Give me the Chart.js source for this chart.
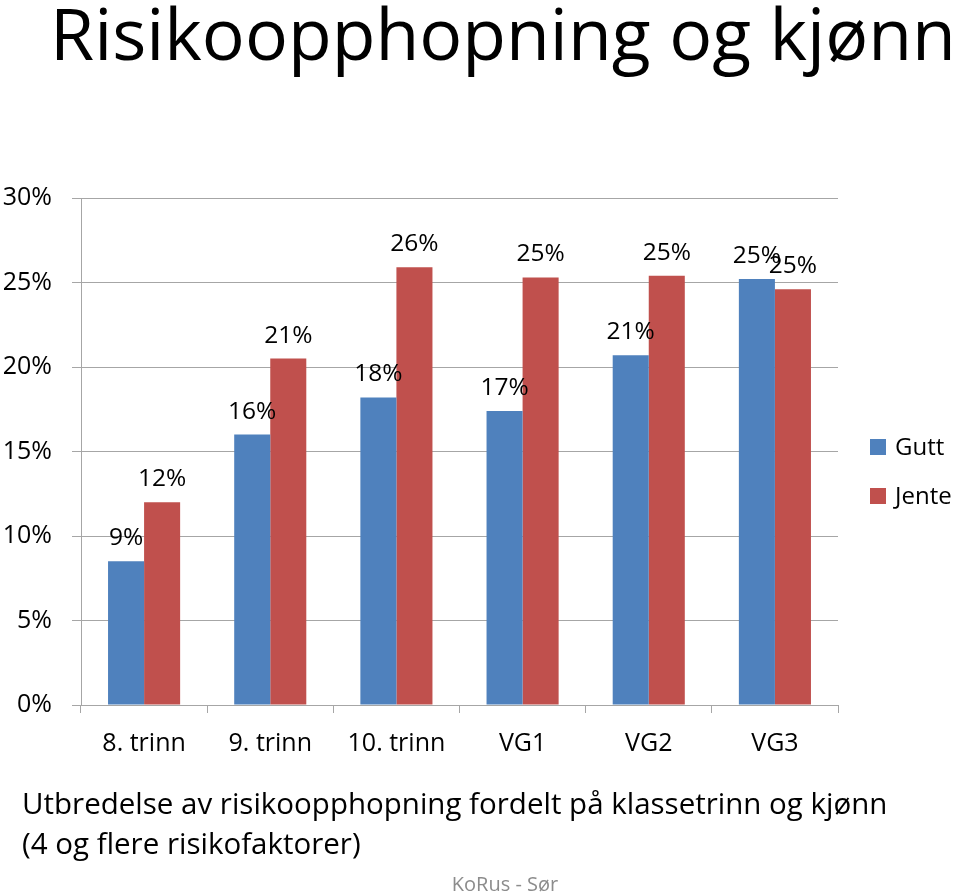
<!DOCTYPE html>
<html>
<head>
<meta charset="utf-8">
<script src="https://cdn.jsdelivr.net/npm/chart.js@4/dist/chart.umd.min.js"></script>
<style>
  html, body { margin: 0; padding: 0; background: #ffffff; }
  #wrap { position: relative; width: 960px; height: 894px; overflow: hidden; }
  canvas { display: block; }
</style>
</head>
<body>
<div id="wrap"><canvas id="c" width="960" height="894"></canvas></div>
<script>
const titleText = "Risikoopphopning og kjønn";
const subtitleLines = ["Utbredelse av risikoopphopning fordelt på klassetrinn og kjønn", "(4 og flere risikofaktorer)"];
const footerText = "KoRus - Sør";

const categories = ["8. trinn", "9. trinn", "10. trinn", "VG1", "VG2", "VG3"];
const seriesNames = ["Gutt", "Jente"];
const guttValues = [8.5, 16.0, 18.2, 17.4, 20.7, 25.2];
const jenteValues = [12.0, 20.5, 25.9, 25.3, 25.4, 24.6];
const yTickMax = 30;
const yTickStep = 5;

const FONT = "'Open Sans', 'DejaVu Sans', sans-serif";
const BLUE = "#4F81BD";
const RED = "#C0504D";
const GRID = "#a6a6a6";

const textPlugin = {
  id: "texts",
  afterDraw(chart) {
    const ctx = chart.ctx;
    ctx.save();
    ctx.textBaseline = "alphabetic";
    ctx.textAlign = "left";
    ctx.fillStyle = "#000000";
    ctx.font = "71.5px " + FONT;
    ctx.fillText(titleText, 50, 60);
    ctx.font = "29.5px " + FONT;
    ctx.fillText(subtitleLines[0], 22, 814);
    ctx.fillText(subtitleLines[1], 22, 854);
    ctx.fillStyle = "#8c8c8c";
    ctx.font = "20px " + FONT;
    ctx.textAlign = "center";
    ctx.fillText(footerText, 505, 891);
    // legend
    ctx.textAlign = "left";
    ctx.textBaseline = "middle";
    ctx.font = "24px " + FONT;
    chart.data.datasets.forEach((ds, i) => {
      const cy = 447 + i * 49;
      ctx.fillStyle = ds.backgroundColor;
      ctx.fillRect(870, cy - 8, 16, 16);
      ctx.fillStyle = "#000000";
      ctx.fillText(ds.label, 895, cy + 1);
    });
    ctx.restore();
  },
  afterDatasetsDraw(chart) {
    const ctx = chart.ctx;
    ctx.save();
    ctx.font = "24.5px " + FONT;
    ctx.fillStyle = "#000000";
    ctx.textAlign = "center";
    ctx.textBaseline = "alphabetic";
    chart.data.datasets.forEach((ds, di) => {
      const meta = chart.getDatasetMeta(di);
      meta.data.forEach((el, i) => {
        ctx.fillText(Math.round(ds.data[i]) + "%", el.x, el.y - 16);
      });
    });
    ctx.restore();
  }
};

new Chart(document.getElementById("c"), {
  type: "bar",
  data: {
    labels: categories,
    datasets: [
      { label: seriesNames[0], data: guttValues, backgroundColor: BLUE, borderWidth: 0 },
      { label: seriesNames[1], data: jenteValues, backgroundColor: RED, borderWidth: 0 }
    ]
  },
  options: {
    responsive: false,
    animation: false,
    devicePixelRatio: 1,
    categoryPercentage: 72 / 126,
    barPercentage: 1.0,
    layout: { padding: { left: 0, right: 122, top: 198, bottom: 129 } },
    plugins: {
      legend: { display: false },
      tooltip: { enabled: false },
      title: { display: false }
    },
    scales: {
      x: {
        offset: true,
        afterFit(scale) { scale.height = 60; },
        grid: { display: true, drawOnChartArea: false, drawTicks: true, tickLength: 8, color: GRID, offset: true },
        border: { display: true, color: GRID, width: 1 },
        ticks: { color: "#000000", font: { family: FONT, size: 25 }, padding: 16, maxRotation: 0, autoSkip: false }
      },
      y: {
        min: 0,
        max: yTickMax,
        afterFit(scale) { scale.width = 81; },
        grid: { display: true, drawTicks: true, tickLength: 9, color: GRID },
        border: { display: true, color: GRID, width: 1 },
        ticks: {
          stepSize: yTickStep,
          color: "#000000",
          font: { family: FONT, size: 25 },
          padding: 20,
          callback: (v) => v + "%"
        }
      }
    }
  },
  plugins: [textPlugin]
});
</script>
</body>
</html>
